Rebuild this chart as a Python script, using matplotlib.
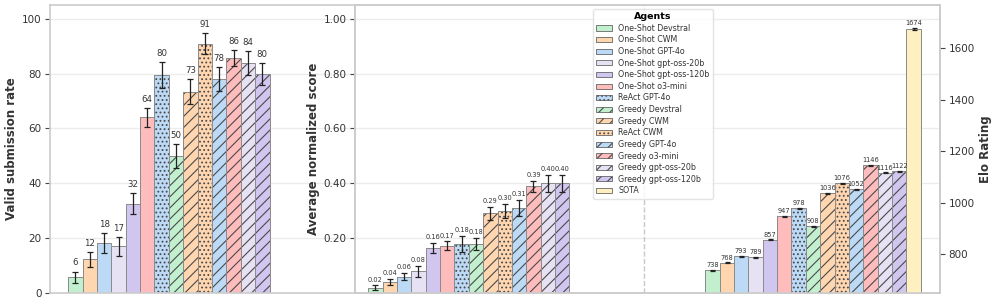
import numpy as np
import matplotlib
matplotlib.use('Agg')
import matplotlib.pyplot as plt
from matplotlib.patches import Patch

# agents, in drawing order
agents = ["One-Shot Devstral", "One-Shot CWM", "One-Shot GPT-4o", "One-Shot gpt-oss-20b",
          "One-Shot gpt-oss-120b", "One-Shot o3-mini", "ReAct GPT-4o", "Greedy Devstral",
          "Greedy CWM", "ReAct CWM", "Greedy GPT-4o", "Greedy o3-mini",
          "Greedy gpt-oss-20b", "Greedy gpt-oss-120b", "SOTA"]
colors = ["#c2f0cf", "#ffd6b0", "#bcd9f5", "#e6e1f3", "#d0c6ef", "#ffbcbc", "#bcd9f5", "#c2f0cf",
          "#ffd6b0", "#ffd6b0", "#bcd9f5", "#ffbcbc", "#e6e1f3", "#d0c6ef", "#fff0c2"]
hatches = ["", "", "", "", "", "", "....", "///", "///", "....", "///", "///", "///", "///", ""]

# valid submission rate (%), no SOTA
valid_rate = [5.8, 12.3, 18.2, 17.0, 32.5, 64.0, 79.5, 50.0, 73.4, 90.9, 78.0, 85.7, 83.9, 79.9]
valid_err = [2.0, 2.7, 3.5, 3.5, 3.8, 3.4, 4.7, 4.4, 4.6, 3.8, 4.4, 3.0, 4.3, 4.0]
valid_lbl = ["6", "12", "18", "17", "32", "64", "80", "50", "73", "91", "78", "86", "84", "80"]

# average normalized score, no SOTA
score = [0.02, 0.04, 0.06, 0.08, 0.165, 0.172, 0.178, 0.18, 0.29, 0.30, 0.31, 0.39, 0.40, 0.40]
score_err = [0.008, 0.012, 0.014, 0.02, 0.019, 0.016, 0.03, 0.022, 0.024, 0.025, 0.03, 0.02, 0.03, 0.03]
score_lbl = ["0.02", "0.04", "0.06", "0.08", "0.16", "0.17", "0.18", "0.18", "0.29", "0.30",
             "0.31", "0.39", "0.40", "0.40"]

# Elo rating, with SOTA
elo = [738, 768, 793, 789, 857, 947, 978, 908, 1036, 1076, 1052, 1146, 1116, 1122, 1674]
elo_err = [2, 2, 2, 2, 2, 2, 2, 2, 2, 2, 2, 2, 2, 2, 5]

plt.rcParams['font.family'] = 'DejaVu Sans'
plt.rcParams['hatch.linewidth'] = 0.8

W = 0.64 / 15
spine_c = '#cccccc'
grid_c = '#ececec'
text_c = '#333333'
hatch_c = '#4a4a4a'
edge_c = '#8a8a8a'
TICK_FS = 7.5
LABEL_FS = 8.5


def offsets(n):
    return (np.arange(n) - 7) * W


def draw_bars(ax, center, vals, errs, n, lw_err=0.9, cap=2.5):
    x = center + offsets(n)
    for i in range(n):
        # fill + hatch (hatch takes the edge colour), then a lighter outline on top
        ax.bar(x[i], vals[i], W, color=colors[i], edgecolor=hatch_c, linewidth=0,
               hatch=hatches[i], zorder=2)
        ax.bar(x[i], vals[i], W, fill=False, edgecolor=edge_c, linewidth=0.7, zorder=2)
    ax.errorbar(x, vals, yerr=errs, fmt='none', ecolor='#222222', elinewidth=lw_err,
                capsize=cap, capthick=lw_err, zorder=3)
    return x


def style(ax):
    for s in ax.spines.values():
        s.set_color(spine_c)
        s.set_linewidth(1.2)
    ax.tick_params(axis='y', length=3.5, width=0.8, color='#444444', labelsize=TICK_FS,
                   labelcolor=text_c, pad=2.5)
    ax.tick_params(axis='x', length=0, labelbottom=False)


fig = plt.figure(figsize=(9.97, 3.05), dpi=100)
ax1 = fig.add_axes([50 / 997, 1 - 293 / 305, 305 / 997, 288 / 305])
ax2 = fig.add_axes([355 / 997, 1 - 293 / 305, 585 / 997, 288 / 305])

# left panel
x1 = draw_bars(ax1, 0.0, valid_rate, valid_err, 14)
for xi, v, e, t in zip(x1, valid_rate, valid_err, valid_lbl):
    ax1.text(xi, v + e + 1.5, t, ha='center', va='bottom', fontsize=6.2, color=text_c)
ax1.set_xlim(-0.374, 0.531)
ax1.set_ylim(0, 105)
ax1.set_yticks([0, 20, 40, 60, 80, 100])
ax1.set_ylabel("Valid submission rate", fontsize=LABEL_FS, fontweight='bold',
               color=text_c, labelpad=3)
ax1.yaxis.grid(True, color=grid_c, linewidth=1, zorder=0)
ax1.set_axisbelow(True)
style(ax1)

# middle panel + elo on twin axis
x2 = draw_bars(ax2, 0.0, score, score_err, 14)
for xi, v, e, t in zip(x2, score, score_err, score_lbl):
    ax2.text(xi, v + e + 0.01, t, ha='center', va='bottom', fontsize=4.8, color=text_c)
ax2.set_xlim(-0.359, 1.377)
ax2.set_ylim(0, 1.05)
ax2.set_yticks([0.2, 0.4, 0.6, 0.8, 1.0])
ax2.set_yticklabels([f"{t:.2f}" for t in [0.2, 0.4, 0.6, 0.8, 1.0]])
ax2.set_ylabel("Average normalized score", fontsize=LABEL_FS, fontweight='bold',
               color=text_c, labelpad=3)
ax2.yaxis.grid(True, color=grid_c, linewidth=1, zorder=0)
ax2.set_axisbelow(True)
ax2.axvline(0.5, color='#c8c8c8', linestyle='--', linewidth=1, zorder=1)
style(ax2)

ax3 = ax2.twinx()
x3 = draw_bars(ax3, 1.0, elo, elo_err, 15, lw_err=0.9, cap=1.8)
for xi, v, e in zip(x3, elo, elo_err):
    ax3.text(xi, v + e + 6, str(v), ha='center', va='bottom', fontsize=4.8, color=text_c)
ax3.set_ylim(650, 1767)
ax3.set_yticks([800, 1000, 1200, 1400, 1600])
ax3.set_ylabel("Elo Rating", fontsize=LABEL_FS, fontweight='bold', color=text_c, labelpad=3)
ax3.grid(False)
style(ax3)

handles = [Patch(facecolor=c, edgecolor=hatch_c, linewidth=0.5, hatch=h, label=a)
           for a, c, h in zip(agents, colors, hatches)]
leg = ax2.legend(handles=handles, title="Agents", loc='upper left',
                 bbox_to_anchor=((593 - 355) / 585, (293 - 9) / 288), fontsize=5.7,
                 title_fontsize=6.8, frameon=True, handlelength=2.0, handleheight=0.6,
                 labelspacing=0.33, borderpad=0.4, handletextpad=0.8, borderaxespad=0)
leg.get_title().set_fontweight('bold')
leg.get_frame().set_edgecolor('#dddddd')
leg.set_zorder(10)
for t in leg.get_texts():
    t.set_color(text_c)

fig.savefig("out.png", dpi=100)
